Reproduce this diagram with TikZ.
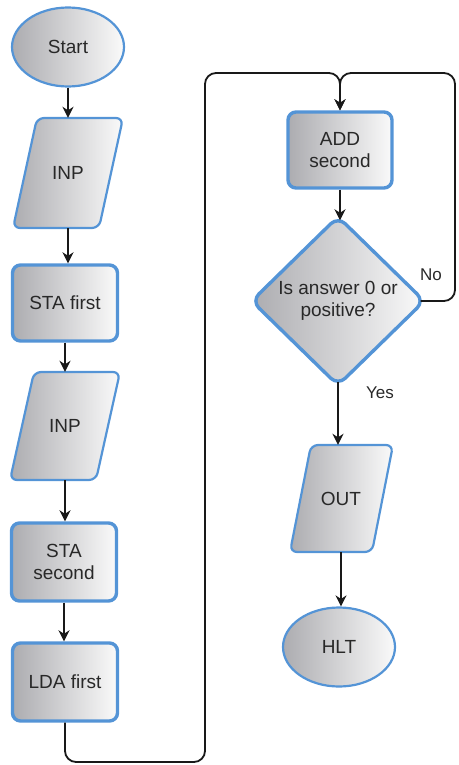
\documentclass[tikz,border=0pt]{standalone}
\usepackage{fontspec}
\setmainfont{Liberation Sans}
\usetikzlibrary{shapes.geometric,arrows.meta}
\definecolor{bord}{RGB}{84,148,214}
\definecolor{gdark}{RGB}{172,172,176}
\definecolor{glight}{RGB}{250,250,250}
\definecolor{txt}{RGB}{40,40,40}
\definecolor{lin}{RGB}{25,25,25}
\begin{document}
\begin{tikzpicture}[x=1pt,y=-1pt,
  every node/.style={font=\fontsize{19}{22}\selectfont, text=txt},
  base/.style={left color=gdark, right color=glight, draw=bord, align=center, inner sep=0pt},
  term/.style={base, ellipse, line width=2.2pt, minimum width=112pt, minimum height=79pt},
  proc/.style={base, rectangle, rounded corners=8pt, line width=3.4pt, minimum width=104pt, minimum height=76pt},
  iobg/.style={left color=gdark, right color=glight, draw=bord, line width=2.2pt, rounded corners=7pt},
  iotxt/.style={rectangle, align=center, inner sep=0pt, minimum width=86pt},
  dec/.style={base, diamond, rounded corners=10pt, line width=3.4pt, minimum width=174pt, minimum height=170pt},
  flow/.style={draw=lin, line width=1.8pt, -{Stealth[length=11pt,width=11pt,inset=3.5pt]}},
  lab/.style={font=\fontsize{17}{20}\selectfont, text=txt, inner sep=0pt}
]
\useasboundingbox (0,0) rectangle (458,765);

% left column
\node[term] (start) at (68,47) {Start};
\path[iobg] (37,118) -- (123,118) -- (99,228) -- (13,228) -- cycle;
\node[iotxt, minimum height=110pt] (inp1) at (68,173) {INP};
\node[proc, minimum width=105pt] (sta1) at (65,303) {STA first};
\path[iobg] (34,372) -- (120,372) -- (96,480) -- (10,480) -- cycle;
\node[iotxt, minimum height=108pt] (inp2) at (65,426) {INP};
\node[proc, minimum width=105pt, minimum height=78pt] (sta2) at (64,562) {STA\\second};
\node[proc, minimum width=105pt, minimum height=78pt] (lda)  at (65,682) {LDA first};

% right column
\node[proc] (add) at (340,150) {ADD\\second};
\node[dec]  (dia) at (338,301) {Is answer 0 or\\positive?};
\path[iobg] (311,445) -- (393,445) -- (372,552) -- (290,552) -- cycle;
\node[iotxt, minimum height=107pt] (out) at (341,498.5) {OUT};
\node[term] (hlt) at (339,647) {HLT};

\node[lab] (no)  at (431,275) {No};
\node[lab] (yes) at (380,393) {Yes};

\coordinate (bl) at (205,762);
\coordinate (tl) at (205,73);
\coordinate (tr) at (455,73);

% straight connectors
\draw[flow] (start.south) -- (start.south |- inp1.north);
\draw[flow] (inp1.south) -- (inp1.south |- sta1.north);
\draw[flow] (sta1.south) -- (sta1.south |- inp2.north);
\draw[flow] (inp2.south) -- (inp2.south |- sta2.north);
\draw[flow] (sta2.south) -- (sta2.south |- lda.north);
\draw[flow] (add.south) -- ([yshift=-6pt]add.south |- dia.north);
\draw[flow] ([yshift=6pt]dia.south) -- (dia.south |- out.north);
\draw[flow] (out.south) -- (out.south |- hlt.north);

% loops
\draw[flow, rounded corners=11pt] (lda.south) |- (bl) -- (tl) -- (add.north |- tl) -- (add.north);
\draw[flow, rounded corners=11pt] ([xshift=-6pt]dia.east) -- (dia.east -| tr) -- (tr) -- (add.north |- tr) -- (add.north);
\end{tikzpicture}
\end{document}
